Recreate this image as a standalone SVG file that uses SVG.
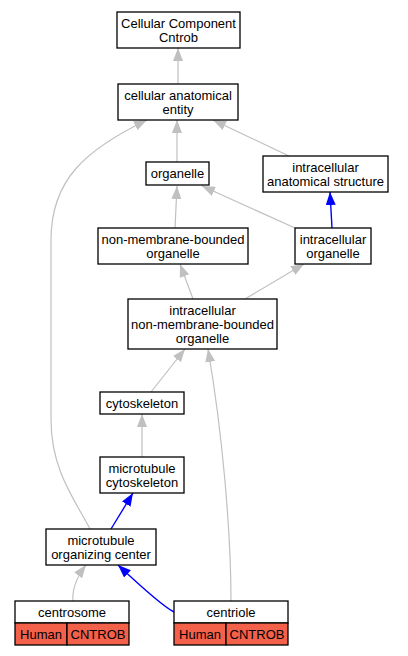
<svg xmlns="http://www.w3.org/2000/svg" width="408" height="656" viewBox="0 0 408 656">
<style>
.box{fill:#ffffff;stroke:#000000;stroke-width:1.3}
.red{fill:#f4614a;stroke:#000000;stroke-width:1.3}
text{font-family:"Liberation Sans",Arial,sans-serif;font-size:13px;fill:#000000;text-anchor:middle}
.eg{fill:none;stroke:#c0c0c0;stroke-width:1.2;marker-end:url(#ag)}
.eb{fill:none;stroke:#0000ff;stroke-width:1.4;marker-end:url(#ab)}
</style>
<defs>
<marker id="ag" markerWidth="13" markerHeight="10" refX="13" refY="5" orient="auto" markerUnits="userSpaceOnUse" viewBox="0 0 13 10"><path d="M0,0 L13,5 L0,10 z" fill="#c0c0c0"/></marker>
<marker id="ab" markerWidth="13" markerHeight="10" refX="13" refY="5" orient="auto" markerUnits="userSpaceOnUse" viewBox="0 0 13 10"><path d="M0,0 L13,5 L0,10 z" fill="#0000ff"/></marker>
</defs>
<rect x="0" y="0" width="408" height="656" fill="#ffffff"/>
<g id="edges">
<path class="eg" d="M178,84 L178,48"/>
<path class="eg" d="M177,162 L177,120"/>
<path class="eg" d="M289,156 L213,120"/>
<path class="eg" d="M90,529 C75,500 51,470 51,420 L51,240 C51,180 85,150 147,120"/>
<path class="eg" d="M175,228 L177,186"/>
<path class="eg" d="M295,228 L202,186"/>
<path class="eb" d="M332,228 L330,192"/>
<path class="eg" d="M193,299 L180,264"/>
<path class="eg" d="M245,299 L304,264"/>
<path class="eg" d="M151,392 L185,349"/>
<path class="eg" d="M231,601 C231,530 222,430 208,349"/>
<path class="eg" d="M142,457 L142,414"/>
<path class="eb" d="M111,529 L133,493"/>
<path class="eg" d="M73,601 C72,590 76,578 86,565"/>
<path class="eb" d="M174,612 C166,608 150,595 118,565"/>
</g>
<g id="n_cc"><rect class="box" x="117" y="12" width="123" height="36"/><text x="178.5" y="27.5">Cellular Component</text><text x="178.5" y="41.5">Cntrob</text></g>
<g id="n_cae"><rect class="box" x="118" y="84" width="120" height="36"/><text x="178" y="99.5">cellular anatomical</text><text x="178" y="113.5">entity</text></g>
<g id="n_org"><rect class="box" x="146" y="162" width="63" height="23"/><text x="177.5" y="178">organelle</text></g>
<g id="n_ias"><rect class="box" x="263" y="156" width="125" height="36"/><text x="325.5" y="171.5">intracellular</text><text x="325.5" y="185.5">anatomical structure</text></g>
<g id="n_nmbo"><rect class="box" x="98" y="228" width="150" height="36"/><text x="173" y="243.5">non-membrane-bounded</text><text x="173" y="257.5">organelle</text></g>
<g id="n_io"><rect class="box" x="295" y="228" width="76" height="36"/><text x="333" y="243.5">intracellular</text><text x="333" y="257.5">organelle</text></g>
<g id="n_inmbo"><rect class="box" x="128" y="299" width="149" height="50"/><text x="202.5" y="314.5">intracellular</text><text x="202.5" y="328.5">non-membrane-bounded</text><text x="202.5" y="342.5">organelle</text></g>
<g id="n_cyto"><rect class="box" x="100" y="392" width="84" height="22"/><text x="142" y="407.5">cytoskeleton</text></g>
<g id="n_mtc"><rect class="box" x="100" y="457" width="84" height="36"/><text x="142" y="472.5">microtubule</text><text x="142" y="486.5">cytoskeleton</text></g>
<g id="n_mtoc"><rect class="box" x="46" y="529" width="110" height="36"/><text x="101" y="544.5">microtubule</text><text x="101" y="558.5">organizing center</text></g>
<g id="n_centrosome"><rect class="box" x="15" y="601" width="114" height="22"/><rect class="red" x="15" y="623" width="52" height="22"/><rect class="red" x="67" y="623" width="62" height="22"/><text x="72" y="616.5">centrosome</text><text x="41" y="638.5">Human</text><text x="98" y="638.5">CNTROB</text></g>
<g id="n_centriole"><rect class="box" x="174" y="601" width="114" height="22"/><rect class="red" x="174" y="623" width="52" height="22"/><rect class="red" x="226" y="623" width="62" height="22"/><text x="231" y="616.5">centriole</text><text x="200" y="638.5">Human</text><text x="257" y="638.5">CNTROB</text></g>
</svg>
